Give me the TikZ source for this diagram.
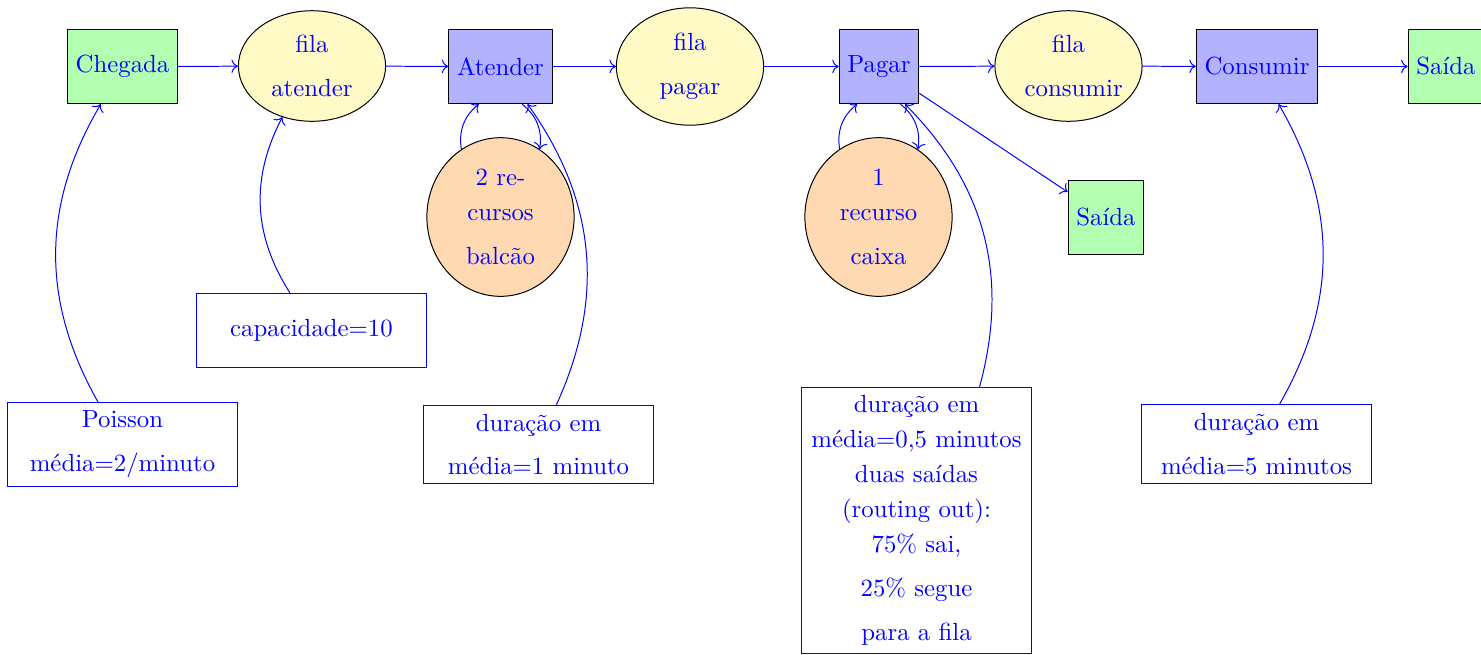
\documentclass[tikz,border=0pt]{standalone}
\usetikzlibrary{shapes.geometric,arrows.meta}
\definecolor{filaamarelo}{RGB}{255,250,198}
\begin{document}
\begin{tikzpicture}[x=0.4032pt,y=-0.4032pt,
  proc/.style={rectangle, draw=black, minimum height=30pt, text=blue},
  procg/.style={proc, fill=green!30},
  procb/.style={proc, fill=blue!30},
  fila/.style={ellipse, draw=black, fill=filaamarelo, text=blue, text width=35.3pt, align=center, font=\fontsize{10pt}{14.1pt}\selectfont},
  recurso/.style={fila, fill=orange!30},
  nota/.style={rectangle, draw=blue, text=blue, text width=86.1pt, align=center, minimum height=30pt, font=\fontsize{10pt}{14.1pt}\selectfont},
  seta/.style={-{To[length=2.6pt,width=5.4pt]}, blue}]
\clip (0,0) rectangle (1481,654);
% main row
\node[procg] (chegada) at (122.5,66.5) {Chegada};
\node[fila] (filaA) at (312,66) {fila\\[3.6pt]atender};
\node[procb] (atender) at (500.5,66.5) {Atender};
\node[fila] (filaP) at (690,66.5) {fila\\[3.6pt]pagar};
\node[procb] (pagar) at (879,66.5) {Pagar};
\node[fila] (filaC) at (1068.5,66) {fila\\[3.6pt]consumir};
\node[procb] (consumir) at (1257,66.5) {Consumir};
\node[procg] (saidaR) at (1446,66.5) {Saída};
% resources
\node[recurso] (resA) at (500.5,217) {2 re-\\cursos\\[3.6pt]balcão};
\node[recurso] (resP) at (878.5,217) {1\\recurso\\[3.6pt]caixa};
\node[procg] (saidaB) at (1106,217.5) {Saída};
% notes
\node[nota] (cap) at (311.5,330.5) {capacidade=10};
\node[nota] (poisson) at (122.5,444.5) {Poisson\\[3.6pt]média=2/minuto};
\node[nota] (dur1) at (538.5,444.5) {duração em\\[3.6pt]média=1 minuto};
\node[nota, anchor=north] (durP) at (916.5,387) {duração em\\média=0,5 minutos\\duas saídas\\(routing out):\\75\% sai,\\[3.6pt]25\% segue\\[3.6pt]para a fila};
\node[nota] (dur5) at (1256.5,444) {duração em\\[3.6pt]média=5 minutos};
% flow
\draw[seta] (chegada) -- (filaA);
\draw[seta] (filaA) -- (atender);
\draw[seta] (atender) -- (filaP);
\draw[seta] (filaP) -- (pagar);
\draw[seta] (pagar) -- (filaC);
\draw[seta] (filaC) -- (consumir);
\draw[seta] (consumir) -- (saidaR);
\draw[seta] (pagar) -- (saidaB);
% resources loops
\draw[seta] (resA) to[bend left] (atender);
\draw[seta] (atender) to[bend left] (resA);
\draw[seta] (resP) to[bend left] (pagar);
\draw[seta] (pagar) to[bend left] (resP);
% annotations
\draw[seta] (poisson) to[bend left] (chegada);
\draw[seta] (cap) to[bend left] (filaA);
\draw[seta] (dur1) to[bend right] (atender);
\draw[seta] (durP) to[bend right] (pagar);
\draw[seta] (dur5) to[bend right] (consumir);
\end{tikzpicture}
\end{document}
